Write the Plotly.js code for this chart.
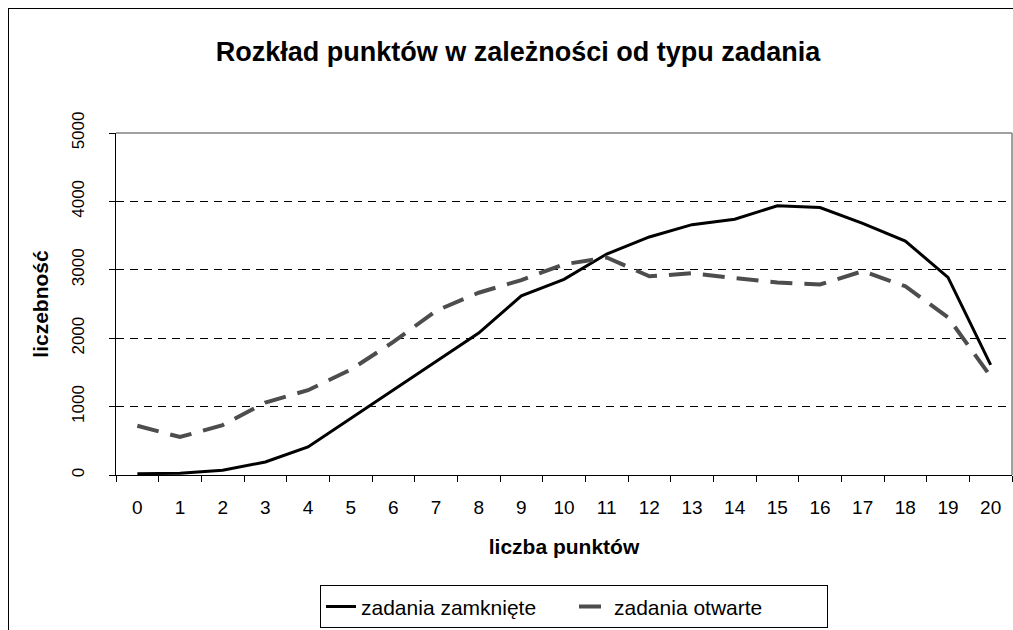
<!DOCTYPE html>
<html>
<head>
<meta charset="utf-8">
<script src="https://cdn.plot.ly/plotly-3.0.1.min.js"></script>
<style>
html,body{margin:0;padding:0;overflow:hidden;background:#fff;}
#chart{width:1013px;height:630px;position:absolute;left:0;top:0;}
#frame{position:absolute;left:8px;top:8px;width:1100px;height:700px;border:1.5px solid #000;pointer-events:none;}
</style>
</head>
<body>
<div id="chart"></div>
<div id="frame"></div>
<script>
const categories = ["0","1","2","3","4","5","6","7","8","9","10","11","12","13","14","15","16","17","18","19","20"];
const zamkniete = [20, 25, 70, 190, 410, 830, 1240, 1660, 2075, 2620, 2860, 3230, 3480, 3660, 3740, 3935, 3910, 3680, 3420, 2890, 1610];
const otwarte = [720, 555, 730, 1060, 1240, 1540, 1945, 2400, 2665, 2850, 3080, 3180, 2905, 2950, 2880, 2815, 2785, 2980, 2760, 2305, 1440];
const yTicks = [0, 1000, 2000, 3000, 4000, 5000];

const font = "Liberation Sans, Arial, sans-serif";

const traces = [
  {x: categories, y: zamkniete, type: 'scatter', mode: 'lines', name: 'zadania zamknięte',
   line: {color: '#000000', width: 3}},
  {x: categories, y: otwarte, type: 'scatter', mode: 'lines', name: 'zadania otwarte',
   line: {color: '#4d4d4d', width: 4, dash: '22px,12px'}}
];

const layout = {
  width: 1013, height: 630,
  margin: {l: 116, r: 1, t: 133, b: 150},
  paper_bgcolor: '#ffffff', plot_bgcolor: '#ffffff',
  font: {family: font, color: '#000', size: 17},
  title: {text: '<b>Rozkład punktów w zależności od typu zadania</b>',
          font: {family: font, size: 27, color: '#000'},
          x: 518/1013, xref: 'container', xanchor: 'center',
          y: 1 - 52/630, yref: 'container', yanchor: 'middle'},
  xaxis: {type: 'category', range: [-0.5, 20.5], tickson: 'boundaries',
          ticks: 'outside', ticklen: 6, tickcolor: '#000', tickwidth: 1,
          ticklabelstandoff: 15,
          showline: true, linecolor: '#000', linewidth: 1, showgrid: false, zeroline: false,
          tickfont: {size: 19, family: font},
          title: {text: '<b>liczba punktów</b>', font: {size: 21, family: font}, standoff: 22},
          automargin: false, fixedrange: true},
  yaxis: {range: [0, 5000], tickvals: yTicks, ticktext: yTicks.map(String),
          tickangle: -90, ticks: 'outside', ticklen: 6, tickcolor: '#000',
          ticklabelstandoff: 18,
          showline: true, linecolor: '#000', linewidth: 1,
          showgrid: true, gridcolor: '#000', gridwidth: 1, griddash: '8px,6px',
          zeroline: false, tickfont: {size: 17, family: font},
          title: {text: '<b>liczebność</b>', font: {size: 21, family: font}, standoff: 14},
          automargin: false, fixedrange: true},
  shapes: [
    {type: 'line', xref: 'paper', yref: 'paper', x0: 0, x1: 1, y0: 1, y1: 1, line: {color: '#808080', width: 1.5}},
    {type: 'line', xref: 'paper', yref: 'paper', x0: 1, x1: 1, y0: 0, y1: 1, line: {color: '#808080', width: 1.5}}
  ],
  showlegend: true,
  legend: {orientation: 'h', x: (320-116)/896, xanchor: 'left', y: (480-592)/347, yanchor: 'top',
           bgcolor: '#fff', bordercolor: '#000', borderwidth: 1,
           entrywidth: 208, entrywidthmode: 'pixels',
           font: {size: 21, family: font}, traceorder: 'normal'}
};

Plotly.newPlot('chart', traces, layout, {displayModeBar: false, staticPlot: true});
</script>
</body>
</html>
